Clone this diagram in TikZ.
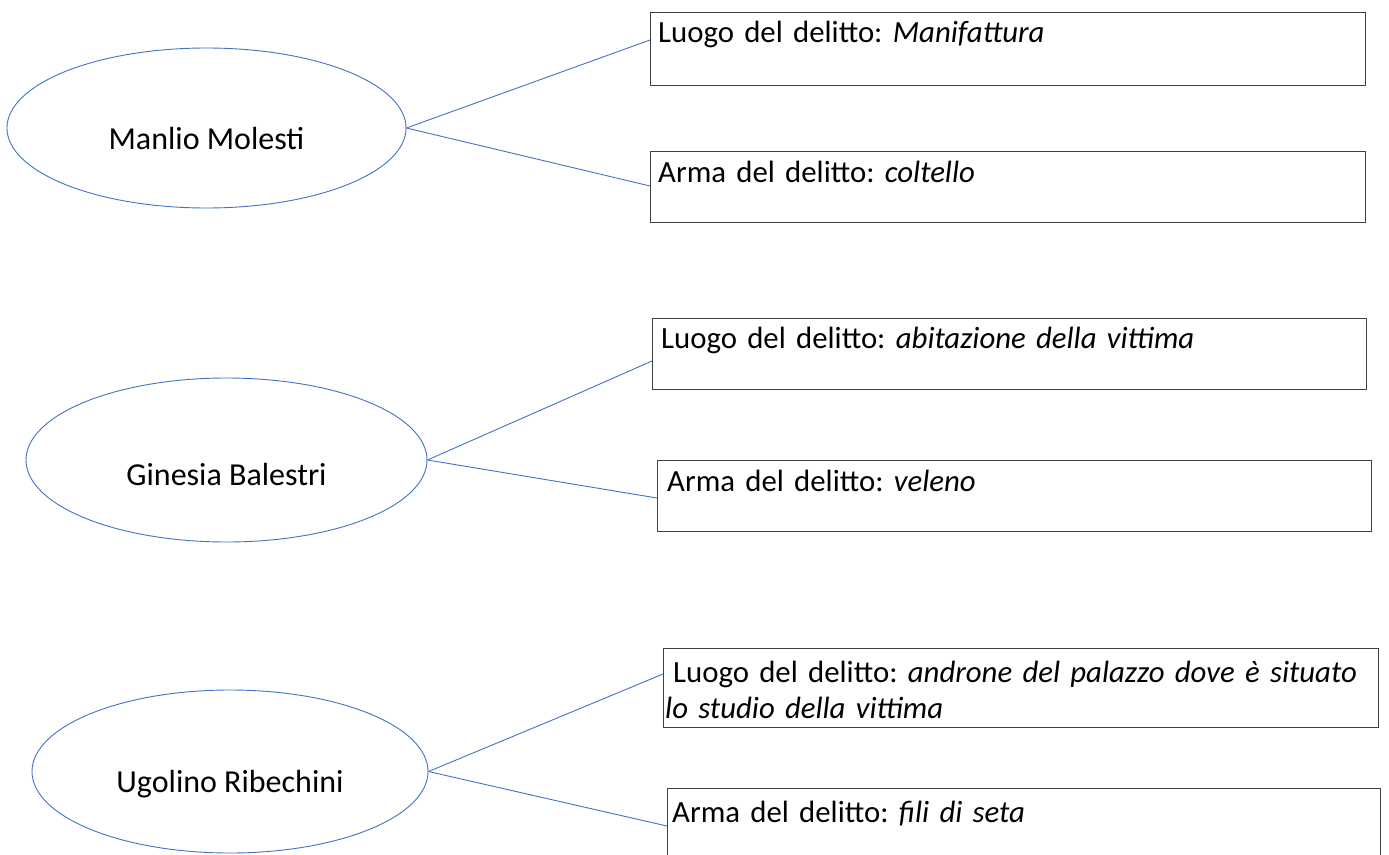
\documentclass[tikz,border=0pt]{standalone}
\usepackage{fontspec}
\setmainfont{Carlito}
\usetikzlibrary{shapes.geometric,calc}
\definecolor{wblue}{HTML}{4472C4}
\definecolor{bgray}{HTML}{404040}
\begin{document}
\frenchspacing
\begin{tikzpicture}[x=1pt,y=-1pt,
  oval/.style={draw=wblue, line width=0.9pt, ellipse, inner sep=0pt},
  infobox/.style={draw=bgray, line width=1pt, rectangle, anchor=north west, inner sep=0pt, minimum width=715pt},
  txt/.style={font=\fontsize{32}{38}\selectfont, inner sep=0pt},
  boxtxt/.style={font=\fontsize{30.8}{36}\selectfont, inner sep=0pt, anchor=base west, text width=712pt, align=left},
  link/.style={draw=wblue, line width=0.9pt}]
\useasboundingbox (0,0) rectangle (1389,854);
\fill[white] (0,0) rectangle (1389,854);

% group 1
\node[oval, minimum width=399pt, minimum height=160pt] (e1) at (206.5,128) {};
\node[txt] (n1) at ([yshift=-11pt]e1.center) {Manlio Molesti};
\node[infobox, minimum height=73pt] (b1) at (650,12) {};
\node[infobox, minimum height=71pt] (b2) at (650,151) {};
\node[boxtxt] (t1) at ([xshift=2pt,yshift=-30pt]b1.north west) {\hspace{6pt}Luogo del delitto: \textit{Manifattura}};
\node[boxtxt] (t2) at ([xshift=2pt,yshift=-31pt]b2.north west) {\hspace{6pt}Arma del delitto: \textit{coltello}};
\coordinate (c1) at ([yshift=-28pt]b1.north west);
\coordinate (c2) at ([yshift=-35pt]b2.north west);
\draw[link] (e1.east) -- (c1);
\draw[link] (e1.east) -- (c2);

% group 2
\node[oval, minimum width=401pt, minimum height=164pt] (e2) at (226.5,460) {};
\node[txt] (n2) at ([yshift=-14pt]e2.center) {Ginesia Balestri};
\node[infobox, minimum height=71pt, minimum width=714pt] (b3) at (652,318) {};
\node[infobox, minimum height=71pt, minimum width=714pt] (b4) at (657,460) {};
\node[boxtxt] (t3) at ([xshift=2pt,yshift=-30pt]b3.north west) {\hspace{7pt}Luogo del delitto: \textit{abitazione della vittima}};
\node[boxtxt] (t4) at ([xshift=2pt,yshift=-31pt]b4.north west) {\hspace{8pt}Arma del delitto: \textit{veleno}};
\coordinate (c3) at ([yshift=-43pt]b3.north west);
\coordinate (c4) at ([yshift=-38pt]b4.north west);
\draw[link] (e2.east) -- (c3);
\draw[link] (e2.east) -- (c4);

% group 3
\node[oval, minimum width=396pt, minimum height=163pt] (e3) at (230,771.5) {};
\node[txt] (n3) at ([yshift=-13pt]e3.center) {Ugolino Ribechini};
\node[infobox, minimum height=79pt] (b5) at (663,648) {};
\node[infobox, minimum height=75pt, minimum width=713pt] (b6) at (667,788) {};
\node[boxtxt] (t5) at ([xshift=2pt,yshift=-34pt]b5.north west) {\hspace{8pt}Luogo del delitto: \textit{androne del palazzo dove è situato}\\\textit{lo studio della vittima}};
\node[boxtxt] (t6) at ([xshift=2pt,yshift=-34pt]b6.north west) {\hspace{3pt}Arma del delitto: \textit{fili di seta}};
\coordinate (c5) at ([yshift=-26pt]b5.north west);
\coordinate (c6) at ([yshift=-38pt]b6.north west);
\draw[link] (e3.east) -- (c5);
\draw[link] (e3.east) -- (c6);
\end{tikzpicture}
\end{document}
